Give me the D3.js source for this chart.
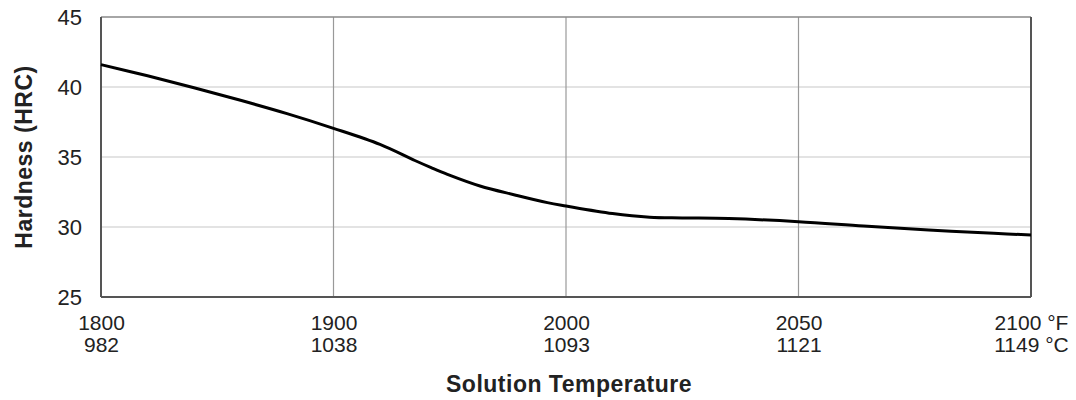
<!DOCTYPE html>
<html>
<head>
<meta charset="utf-8">
<script src="https://cdn.jsdelivr.net/npm/d3@7"></script>
<style>
  body { margin: 0; background: #fff; }
  text { font-family: "Liberation Sans", Arial, sans-serif; fill: #222; }
</style>
</head>
<body>
<svg width="1076" height="400"></svg>
<script>
// curve (deg F, HRC)
var tempF = [1800, 1820, 1840, 1860, 1880, 1900, 1920, 1935, 1942, 1949, 1963, 1978,
             1992, 2000, 2010, 2018, 2025, 2035, 2050, 2064, 2078, 2092, 2100]
var hardness = [41.6, 40.8, 39.95, 39.05, 38.1, 37.05, 35.9, 34.75, 34.24, 33.76, 32.93, 32.29,
                31.74, 31.5, 30.96, 30.7, 30.65, 30.6, 30.38, 30.07, 29.79, 29.55, 29.43]

var tickF = [1800, 1900, 2000, 2050, 2100]
var tickC = [982, 1038, 1093, 1121, 1149]
var tickY = [25, 30, 35, 40, 45]

var margin = {top: 17, right: 45, bottom: 103, left: 101}
var pxX = 1076 - margin.left - margin.right
var pxY = 400 - margin.top - margin.bottom

var svg = d3.select("svg")
var g = svg.append("g").attr("transform", "translate(" + margin.left + "," + margin.top + ")")

// ticks are evenly spaced even though the temperatures aren't,
// so map the temperatures piecewise onto equal steps
var scP = d3.scalePoint().domain(tickF).range([0, pxX])
var scX = d3.scaleLinear().domain(tickF).range(tickF.map(d => scP(d)))
var scY = d3.scaleLinear().domain([25, 45]).range([pxY, 0])

// horizontal grid
g.append("g").selectAll("line")
  .data(tickY.slice(1, -1)).enter().append("line")
  .attr("x1", 0).attr("x2", pxX)
  .attr("y1", d => scY(d)).attr("y2", d => scY(d))
  .attr("stroke", "#c8c8c8").attr("stroke-width", 1.2)

// vertical grid
g.append("g").selectAll("line")
  .data(tickF.slice(1, -1)).enter().append("line")
  .attr("x1", d => scX(d)).attr("x2", d => scX(d))
  .attr("y1", 0).attr("y2", pxY)
  .attr("stroke", "#999").attr("stroke-width", 1.2)

// frame
g.append("line").attr("x1", 0).attr("x2", pxX).attr("y1", 0).attr("y2", 0)
  .attr("stroke", "#888").attr("stroke-width", 1.5)
g.append("line").attr("x1", 0).attr("x2", pxX).attr("y1", pxY).attr("y2", pxY)
  .attr("stroke", "#555").attr("stroke-width", 2)
g.append("line").attr("x1", 0).attr("x2", 0).attr("y1", 0).attr("y2", pxY)
  .attr("stroke", "#555").attr("stroke-width", 2)
g.append("line").attr("x1", pxX).attr("x2", pxX).attr("y1", 0).attr("y2", pxY)
  .attr("stroke", "#555").attr("stroke-width", 2)

// y axis labels
var yAx = g.append("g")
  .call(d3.axisLeft(scY).tickValues(tickY).tickSize(0).tickPadding(19))
yAx.select(".domain").remove()
yAx.selectAll("text").attr("font-size", 22).attr("font-family", null).style("fill", "#222")

// x axis labels: one text per tick, deg F on top and deg C under it
var xAx = g.append("g").attr("transform", "translate(0," + pxY + ")")
  .call(d3.axisBottom(scX).tickValues(tickF).tickSize(0).tickFormat(""))
xAx.select(".domain").remove()
xAx.selectAll(".tick text").remove()
var lbl = xAx.selectAll(".tick").append("text")
  .attr("text-anchor", "middle")
  .attr("font-size", 21)
  .style("fill", "#222")
lbl.append("tspan").attr("x", 0).attr("y", 33)
  .text((d, i) => i == tickF.length - 1 ? d + " \u00b0F" : d)
lbl.append("tspan").attr("x", 0).attr("y", 55)
  .text((d, i) => i == tickC.length - 1 ? tickC[i] + " \u00b0C" : tickC[i])

// the curve
var lineMaker = d3.line()
  .x((d, i) => scX(tempF[i]))
  .y(d => scY(d))
  .curve(d3.curveCatmullRom.alpha(0.5))
g.append("path")
  .attr("fill", "none")
  .attr("stroke", "#000")
  .attr("stroke-width", 3)
  .attr("d", lineMaker(hardness))

// axis titles
svg.append("text")
  .attr("x", 569).attr("y", 392)
  .attr("text-anchor", "middle")
  .attr("font-size", 23).attr("font-weight", "bold")
  .attr("letter-spacing", 0.5)
  .text("Solution Temperature")

svg.append("text")
  .attr("transform", "translate(32,157) rotate(-90)")
  .attr("text-anchor", "middle")
  .attr("font-size", 23).attr("font-weight", "bold")
  .attr("letter-spacing", 0.5)
  .text("Hardness (HRC)")
</script>
</body>
</html>
